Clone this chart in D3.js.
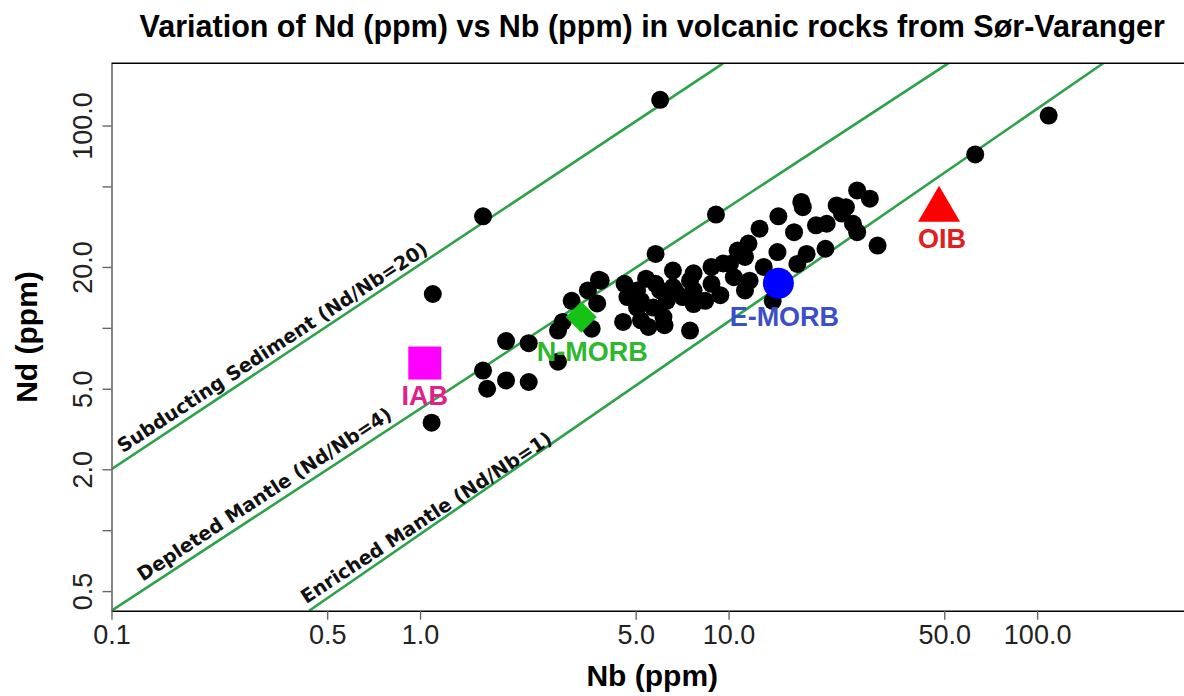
<!DOCTYPE html>
<html>
<head>
<meta charset="utf-8">
<script src="https://cdn.jsdelivr.net/npm/d3@7/dist/d3.min.js"></script>
<style>
  body { margin: 0; background: #fff; }
  svg { display: block; }
</style>
</head>
<body>
<div id="chart"></div>
<script>
// sample values (ppm)
const sampleNb = [6.0, 109, 63, 1.6, 1.1, 1.09, 1.9, 1.6, 1.65, 1.9, 2.25, 2.25, 2.8, 2.8, 3.1, 3.5, 3.8, 3.75, 3.6, 2.9,
  4.6, 4.7, 4.55, 5.2, 5.5, 5.8, 5.4, 6.0, 5.7, 5.2, 6.6, 7.5, 7.1, 7.7, 6.3, 6.15, 7.5, 6.6, 5.05, 9.1,
  3.85, 7.7, 8.8, 9.6, 10.7, 11.6, 12.6, 14.5, 16.3, 14.4, 13.0, 17.2, 17.4, 19.2, 20.8, 22.4, 24.0, 23.3, 26.1, 28.7,
  25.3, 26.1, 17.9, 20.6, 30.4, 16.7, 10.1, 11.3, 10.4, 8.8, 7.7, 6.7, 5.8, 5.05, 9.4, 11.7, 8.4, 13.9, 11.3, 6.2];
const sampleNd = [134, 112, 72, 35.6, 14.7, 3.4, 8.6, 6.15, 5.0, 5.5, 5.4, 8.4, 6.8, 9.7, 13.6, 15.3, 17.3, 13.2, 9.9, 10.7,
  16.5, 14.2, 10.7, 10.9, 10.1, 23.2, 17.5, 15.3, 12.6, 13.6, 19.2, 17.1, 14.2, 13.1, 13.6, 11.3, 9.7, 15.9, 12.6, 36.3,
  17.1, 18.6, 20.0, 20.8, 24.1, 26.1, 30.9, 35.6, 29.7, 23.7, 20.0, 41.9, 39.5, 32.1, 32.7, 40.3, 39.5, 36.7, 47.8, 43.5,
  32.7, 29.7, 23.2, 24.6, 25.5, 20.7, 20.7, 22.4, 17.8, 16.5, 15.3, 15.3, 16.5, 15.3, 14.5, 17.1, 13.6, 13.6, 15.3, 10.3];

// reference reservoirs
const refNames = ["IAB", "N-MORB", "E-MORB", "OIB"];
const refNb = [1.036, 3.33, 14.5, 48.1];
const refNd = [6.7, 11.3, 16.6, 41];
const refShapes = ["square", "diamond", "circle", "triangle"];
const refFill = ["#ff00ff", "#15c215", "#0000ff", "#ff0000"];
const refText = ["#e0218a", "#2db82d", "#3b4fc9", "#e02020"];

// reference lines (end points as drawn)
const lineNames = ["Subducting Sediment (Nd/Nb=20)", "Depleted Mantle (Nd/Nb=4)", "Enriched Mantle (Nd/Nb=1)"];
const lineNb = [[0.1, 9.6], [0.1, 51.5], [0.437, 163.7]];
const lineNd = [[2, 203], [0.4, 203], [0.4, 203]];
const lineLabelNb = [0.112, 0.13, 0.44];

const xTicks = [0.1, 0.5, 1, 5, 10, 50, 100];
const yTicks = [0.5, 1, 2, 5, 10, 20, 50, 100];
const yTickLabels = ["0.5", "", "2.0", "5.0", "", "20.0", "", "100.0"];

const width = 1184, height = 696;
const plotLeft = 111.5, plotRight = 1193, plotTop = 63.3, plotBottom = 610.7;
const sans = "'Liberation Sans', Arial, sans-serif";

let svg = d3.select("#chart").append("svg")
  .attr("width", width)
  .attr("height", height);

let x = d3.scaleLog().domain([0.1, 320]).range([plotLeft, plotRight]);
let y = d3.scaleLog().domain([0.4, 203]).range([plotBottom, plotTop]);

svg.append("clipPath").attr("id", "plot-clip")
  .append("rect")
  .attr("x", plotLeft).attr("y", plotTop)
  .attr("width", plotRight - plotLeft).attr("height", plotBottom - plotTop);

let plot = svg.append("g").attr("clip-path", "url(#plot-clip)");

// green ratio lines
lineNames.forEach((name, i) => {
  plot.append("line")
    .attr("x1", x(lineNb[i][0])).attr("y1", y(lineNd[i][0]))
    .attr("x2", x(lineNb[i][1])).attr("y2", y(lineNd[i][1]))
    .attr("stroke", "#2ca24a")
    .attr("stroke-width", 2.6);
});

// samples
plot.selectAll("circle.sample")
  .data(d3.range(sampleNb.length))
  .enter()
  .append("circle")
  .attr("class", "sample")
  .attr("cx", i => x(sampleNb[i]))
  .attr("cy", i => y(sampleNd[i]))
  .attr("r", 9)
  .attr("fill", "#000");

// reservoir markers
refNames.forEach((name, i) => {
  const cx = x(refNb[i]), cy = y(refNd[i]);
  let g = svg.append("g").attr("transform", `translate(${cx},${cy})`);
  if (refShapes[i] === "square") {
    g.append("rect").attr("x", -16.5).attr("y", -16.5).attr("width", 33).attr("height", 33).attr("fill", refFill[i]);
  } else if (refShapes[i] === "diamond") {
    g.append("rect").attr("x", -11).attr("y", -11).attr("width", 22).attr("height", 22)
      .attr("transform", "rotate(45)").attr("fill", refFill[i]);
  } else if (refShapes[i] === "circle") {
    g.append("circle").attr("r", 15.5).attr("fill", refFill[i]);
  } else {
    g.append("path").attr("d", "M0,-18L21,18L-21,18Z").attr("fill", refFill[i]);
  }
});

const refLabelDx = [0, 11, 6, 3];
const refLabelDy = [42, 44, 43, 44];
refNames.forEach((name, i) => {
  svg.append("text")
    .attr("x", x(refNb[i]) + refLabelDx[i])
    .attr("y", y(refNd[i]) + refLabelDy[i])
    .attr("text-anchor", "middle")
    .attr("font-family", sans)
    .attr("font-weight", "bold")
    .attr("font-size", 27)
    .attr("fill", refText[i])
    .text(name);
});

// labels along the lines, all at the angle of a 1:1 ratio
const labelAngle = Math.atan2(y(10) - y(1), x(10) - x(1)) * 180 / Math.PI;
lineNames.forEach((name, i) => {
  const x1 = x(lineNb[i][0]), y1 = y(lineNd[i][0]);
  const x2 = x(lineNb[i][1]), y2 = y(lineNd[i][1]);
  const px = x(lineLabelNb[i]);
  const py = y1 + (y2 - y1) * (px - x1) / (x2 - x1);
  svg.append("text")
    .attr("transform", `translate(${px},${py}) rotate(${labelAngle})`)
    .attr("y", -7)
    .attr("font-family", "'DejaVu Sans', Verdana, sans-serif")
    .attr("font-weight", "bold")
    .attr("font-size", 19.2)
    .attr("fill", "#111")
    .text(name);
});

// axes
let xAxis = svg.append("g")
  .attr("transform", `translate(0,${plotBottom})`)
  .call(d3.axisBottom(x).tickValues(xTicks).tickFormat(d => d.toFixed(1)).tickSize(9).tickSizeOuter(0).tickPadding(5));
xAxis.select(".domain").attr("stroke", "#000").attr("stroke-width", 1.6);
xAxis.selectAll(".tick line").attr("stroke", "#666").attr("stroke-width", 1.4);
xAxis.selectAll(".tick text")
  .attr("font-family", sans).attr("font-size", 27).attr("fill", "#222");

let yAxis = svg.append("g")
  .attr("transform", `translate(${plotLeft},0)`)
  .call(d3.axisLeft(y).tickValues(yTicks).tickFormat((d, i) => yTickLabels[i]).tickSize(9).tickSizeOuter(0));
yAxis.select(".domain").attr("stroke", "#666").attr("stroke-width", 1.6);
yAxis.selectAll(".tick line").attr("stroke", "#666").attr("stroke-width", 1.4);
yAxis.selectAll(".tick text")
  .attr("transform", "rotate(-90)")
  .attr("x", 0).attr("y", -20).attr("dy", 0)
  .attr("text-anchor", "middle")
  .attr("font-family", sans).attr("font-size", 27).attr("fill", "#222");

// top border
svg.append("line")
  .attr("x1", plotLeft).attr("x2", plotRight)
  .attr("y1", plotTop).attr("y2", plotTop)
  .attr("stroke", "#000").attr("stroke-width", 1.6);

// titles
svg.append("text")
  .attr("x", (plotLeft + plotRight) / 2).attr("y", 37)
  .attr("text-anchor", "middle")
  .attr("font-family", sans).attr("font-weight", "bold").attr("font-size", 30.5)
  .text("Variation of Nd (ppm) vs Nb (ppm) in volcanic rocks from Sør-Varanger");

svg.append("text")
  .attr("x", (plotLeft + plotRight) / 2).attr("y", 686)
  .attr("text-anchor", "middle")
  .attr("font-family", sans).attr("font-weight", "bold").attr("font-size", 30)
  .text("Nb (ppm)");

svg.append("text")
  .attr("transform", `translate(37,${(plotTop + plotBottom) / 2}) rotate(-90)`)
  .attr("text-anchor", "middle")
  .attr("font-family", sans).attr("font-weight", "bold").attr("font-size", 30)
  .text("Nd (ppm)");
</script>
</body>
</html>
